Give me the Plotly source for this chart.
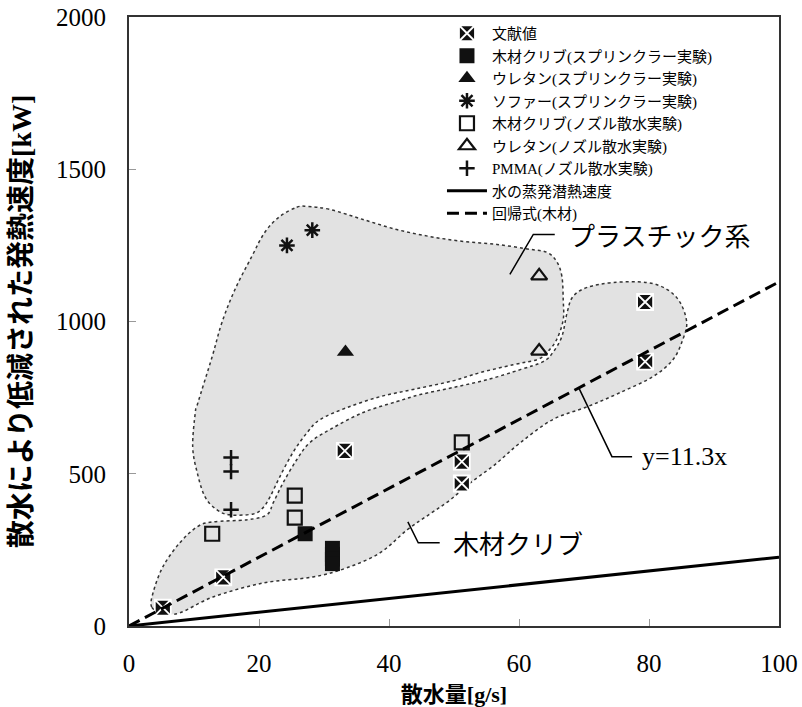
import plotly.graph_objects as go

# ---------------- data ----------------
lit_x = [5.2, 14.5, 33.2, 51.2, 51.2, 79.4, 79.4]
lit_y = [60, 160, 575, 540, 468, 1064, 868]

crib_spr_x = [27.1, 31.3, 31.3, 31.3, 31.3]
crib_spr_y = [303, 255, 235, 220, 205]

ure_spr_x = [33.3]
ure_spr_y = [900]

sofa_x = [24.3, 28.2]
sofa_y = [1250, 1300]

crib_noz_x = [12.8, 25.5, 25.5, 51.2]
crib_noz_y = [303, 428, 356, 603]

ure_noz_x = [63.1, 63.1]
ure_noz_y = [1150, 903]

pmma_x = [15.7, 15.7, 15.7]
pmma_y = [553, 507, 382]

line_x = [0, 100]
latent_y = [0, 226]      # 水の蒸発潜熱速度
reg_y = [0, 1130]        # y = 11.3x

names = ["文献値", "木材クリブ(スプリンクラー実験)", "ウレタン(スプリンクラー実験)",
         "ソファー(スプリンクラー実験)", "木材クリブ(ノズル散水実験)", "ウレタン(ノズル散水実験)",
         "PMMA(ノズル散水実験)", "水の蒸発潜熱速度", "回帰式(木材)"]

# region outlines (decoration, data coordinates)
plastic_x = [25.8, 27.4, 30.9, 36.0, 41.2, 46.3, 51.4, 56.6, 61.7, 64.3, 65.8, 66.6, 66.8, 66.8,
             65.8, 64.3, 62.8, 59.1, 54.0, 49.8, 44.0, 38.6, 33.5, 29.4, 27.4, 25.2, 23.2, 21.7,
             20.6, 19.1, 15.5, 13.5, 11.7, 10.5, 9.8, 10.2, 10.6, 12.8, 14.3, 16.3, 18.9, 20.9, 23.2]
plastic_y = [1375, 1378, 1368, 1335, 1302, 1279, 1263, 1253, 1237, 1227, 1197, 1148, 1072, 1006,
             941, 898, 875, 858, 832, 805, 778, 753, 717, 678, 635, 569, 490, 424,
             388, 368, 365, 382, 424, 503, 589, 701, 733, 885, 997, 1105, 1214, 1293, 1345]

wood_x = [3.5, 3.7, 5.2, 7.8, 10.5, 12.9, 18.2, 21.2, 22.2, 23.7, 25.8, 27.8, 30.9, 36.0, 41.2,
          44.8, 49.8, 55.1, 60.2, 63.7, 65.2, 66.6, 67.4, 68.3, 70.5, 74.5, 79.7, 82.8, 84.8,
          85.8, 85.2, 83.7, 80.6, 75.5, 70.5, 65.2, 60.2, 56.3, 52.5, 49.4, 46.3, 42.8, 38.6,
          33.5, 28.3, 20.6, 12.9, 7.8, 5.2]
wood_y = [62, 109, 194, 273, 326, 342, 349, 365, 405, 470, 546, 602, 645, 701, 737,
          760, 783, 809, 842, 868, 898, 951, 1029, 1082, 1112, 1128, 1128, 1105, 1062,
          997, 941, 875, 819, 766, 720, 678, 602, 530, 470, 414, 368, 316, 240,
          191, 161, 141, 95, 43, 43]


def smooth_closed_path(xs, ys):
    pts = list(zip(xs, ys))
    n = len(pts)
    d = f"M{pts[0][0]},{pts[0][1]}"
    for i in range(n):
        p0, p1, p2, p3 = pts[(i - 1) % n], pts[i], pts[(i + 1) % n], pts[(i + 2) % n]
        c1 = (p1[0] + (p2[0] - p0[0]) / 6, p1[1] + (p2[1] - p0[1]) / 6)
        c2 = (p2[0] - (p3[0] - p1[0]) / 6, p2[1] - (p3[1] - p1[1]) / 6)
        d += f" C{c1[0]:.3f},{c1[1]:.2f} {c2[0]:.3f},{c2[1]:.2f} {p2[0]:.3f},{p2[1]:.2f}"
    return d + " Z"


SERIF = "Liberation Serif, 'Noto Sans CJK JP', serif"
BLK = "#111111"

fig = go.Figure()

fig.add_trace(go.Scatter(x=lit_x, y=lit_y, mode="markers", name=names[0],
                         marker=dict(symbol="square-x", size=16, color=BLK,
                                     line=dict(color="white", width=1.8))))
fig.add_trace(go.Scatter(x=crib_spr_x, y=crib_spr_y, mode="markers", name=names[1],
                         marker=dict(symbol="square", size=15, color=BLK, line=dict(width=0))))
fig.add_trace(go.Scatter(x=ure_spr_x, y=ure_spr_y, mode="markers", name=names[2],
                         marker=dict(symbol="triangle-up", size=15, color=BLK, line=dict(width=0))))
fig.add_trace(go.Scatter(x=sofa_x, y=sofa_y, mode="markers", name=names[3],
                         marker=dict(symbol="asterisk-open", size=13, color=BLK,
                                     line=dict(color=BLK, width=2.5))))
fig.add_trace(go.Scatter(x=crib_noz_x, y=crib_noz_y, mode="markers", name=names[4],
                         marker=dict(symbol="square-open", size=14, color=BLK,
                                     line=dict(color=BLK, width=2.2))))
fig.add_trace(go.Scatter(x=ure_noz_x, y=ure_noz_y, mode="markers", name=names[5],
                         marker=dict(symbol="triangle-up-open", size=14, color=BLK,
                                     line=dict(color=BLK, width=2.2))))
fig.add_trace(go.Scatter(x=pmma_x, y=pmma_y, mode="markers", name=names[6],
                         marker=dict(symbol="cross-thin-open", size=11, color=BLK,
                                     line=dict(color=BLK, width=2.5))))
fig.add_trace(go.Scatter(x=line_x, y=latent_y, mode="lines", name=names[7],
                         line=dict(color="black", width=3)))
fig.add_trace(go.Scatter(x=line_x, y=reg_y, mode="lines", name=names[8],
                         line=dict(color="black", width=3, dash="12px,6px")))

shapes = []
for xs, ys in [(plastic_x, plastic_y), (wood_x, wood_y)]:
    shapes.append(dict(type="path", path=smooth_closed_path(xs, ys), xref="x", yref="y",
                       fillcolor="#e2e2e2", line=dict(color="#333333", width=1.5, dash="dot"),
                       layer="below"))

leaders = [([58.6, 62.2, 65.5], [1155, 1286, 1286]),
           ([69.2, 74.3, 77.4], [782, 556, 556]),
           ([42.9, 44.5, 47.8], [342, 273, 273])]
for lx, ly in leaders:
    shapes.append(dict(type="path", xref="x", yref="y",
                       path=f"M{lx[0]},{ly[0]} L{lx[1]},{ly[1]} L{lx[2]},{ly[2]}",
                       line=dict(color="black", width=1.5)))

annotations = [
    dict(x=67.4, y=1286, xref="x", yref="y", text="プラスチック系", showarrow=False,
         xanchor="left", yanchor="middle", font=dict(family="Noto Sans CJK JP", size=26, color="black")),
    dict(x=78.6, y=556, xref="x", yref="y", text="y=11.3x", showarrow=False,
         xanchor="left", yanchor="middle", font=dict(family="Liberation Serif", size=26, color="black")),
    dict(x=49.6, y=273, xref="x", yref="y", text="木材クリブ", showarrow=False,
         xanchor="left", yanchor="middle", font=dict(family="Noto Sans CJK JP", size=26, color="black")),
]

fig.update_layout(
    width=802, height=707,
    margin=dict(l=129, r=23, t=17, b=81),
    plot_bgcolor="white", paper_bgcolor="white",
    shapes=shapes, annotations=annotations,
    font=dict(family=SERIF, color="black"),
    legend=dict(x=0.4815, y=1, xanchor="left", yanchor="top", bgcolor="rgba(0,0,0,0)",
                font=dict(family=SERIF, size=15, color="black"),
                tracegroupgap=0, itemwidth=40),
    showlegend=True,
)

fig.update_xaxes(range=[0, 100], tickvals=[0, 20, 40, 60, 80, 100], showgrid=False, zeroline=False,
                 showline=True, mirror=True, linecolor="#333333", linewidth=2,
                 ticks="inside", ticklen=7, tickcolor="#999999", tickwidth=1,
                 tickfont=dict(family="Liberation Serif", size=25, color="black"),
                 ticklabelstandoff=14, automargin=False,
                 title=dict(text="<b>散水量[g/s]</b>", standoff=12,
                            font=dict(family=SERIF, size=22, color="black")))
fig.update_yaxes(range=[0, 2000], tickvals=[0, 500, 1000, 1500, 2000], showgrid=False, zeroline=False,
                 showline=True, mirror=True, linecolor="#333333", linewidth=2,
                 ticks="inside", ticklen=7, tickcolor="#999999", tickwidth=1,
                 tickfont=dict(family="Liberation Serif", size=25, color="black"),
                 ticklabelstandoff=16, automargin=False,
                 title=dict(text="<b>散水により低減された発熱速度[kW]</b>", standoff=16,
                            font=dict(family=SERIF, size=28, color="black")))

fig.write_html("out.html", config={"displayModeBar": False},
               post_script="document.body.style.margin='0';")
